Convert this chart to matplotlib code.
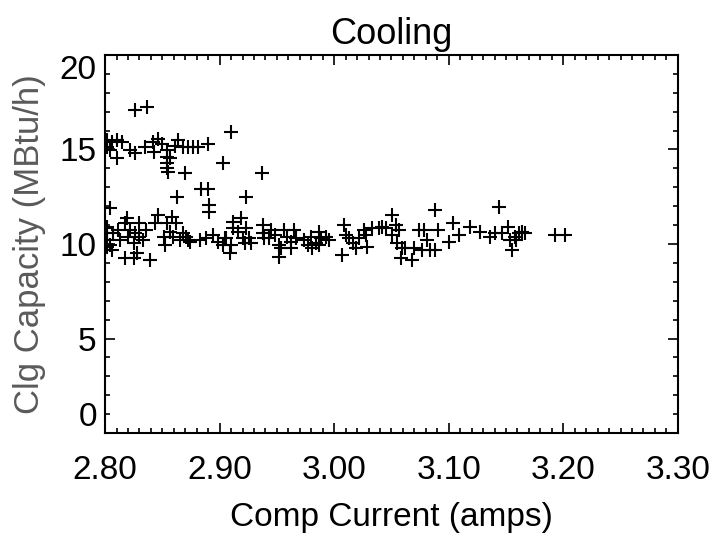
# Scatter of cooling capacity vs compressor current

import numpy as np
import matplotlib.pyplot as plt
from matplotlib.ticker import MultipleLocator

plt.rcParams['font.family'] = ['Liberation Sans', 'DejaVu Sans']

# Upper band (~15 MBtu/h) and stray points
upper_amps = [2.826, 2.837, 2.910, 2.903, 2.937, 2.870, 2.863, 2.884, 2.890, 2.891,
              2.891, 2.923, 2.804,
              2.8015, 2.806, 2.810, 2.815, 2.8015, 2.804, 2.822, 2.826, 2.810, 2.835,
              2.842, 2.846, 2.850, 2.843, 2.854, 2.854, 2.854, 2.854, 2.857, 2.861,
              2.8635, 2.868, 2.872, 2.877, 2.881, 2.890, 2.855]
upper_cap = [17.1, 17.25, 15.9, 14.3, 13.75, 13.75, 12.5, 12.9, 12.9, 12.05,
             11.7, 12.5, 11.9,
             15.5, 15.4, 15.5, 15.4, 15.15, 14.97, 14.97, 14.8, 14.55, 15.15,
             15.4, 15.55, 15.3, 14.85, 14.97, 14.6, 14.3, 14.0, 14.55, 15.2,
             15.5, 15.15, 15.15, 15.15, 15.15, 15.3, 13.8]

# Lower band (~10 MBtu/h), left part
left_amps = [2.8014, 2.8014, 2.8014, 2.8014, 2.8005, 2.8043, 2.806, 2.807, 2.8116, 2.813,
             2.8174, 2.819, 2.820, 2.822, 2.825, 2.826, 2.8276, 2.830, 2.830, 2.833,
             2.836, 2.839, 2.8174, 2.825, 2.8435, 2.846, 2.851, 2.852, 2.854, 2.857,
             2.858, 2.859, 2.862, 2.865, 2.868, 2.871, 2.8725, 2.874, 2.883, 2.888,
             2.894, 2.8985]
left_cap = [10.92, 10.56, 10.21, 9.86, 10.83, 9.95, 9.68, 10.56, 10.74, 10.21,
            11.09, 11.36, 10.39, 10.74, 10.04, 10.56, 9.51, 10.39, 11.09, 10.21,
            10.74, 9.15, 9.24, 9.24, 11.09, 11.53, 10.39, 9.95, 11.09, 10.65,
            11.45, 10.39, 11.09, 10.21, 10.56, 10.39, 10.21, 10.12, 10.21, 10.30,
            10.48, 10.12]

# Lower band, middle part
mid_amps = [2.9116, 2.919, 2.9116, 2.916, 2.923, 2.926, 2.920, 2.922, 2.9276, 2.9058,
            2.910, 2.9029, 2.9043, 2.9087, 2.938, 2.938, 2.939, 2.9435, 2.945, 2.948,
            2.952, 2.9535, 2.9565, 2.959, 2.9623, 2.965, 2.9667, 2.9623, 2.952, 2.974,
            2.9768, 2.9797, 2.981, 2.984, 2.987, 2.9885, 2.993, 2.9957, 2.987, 3.0087,
            3.010, 3.0072, 3.013, 3.016, 3.019, 3.0217, 3.026, 3.0276, 3.029, 3.0333,
            3.039, 3.042, 3.045, 3.0507, 3.0536, 3.0507, 3.055, 3.058, 3.0594, 3.062,
            3.0565]
mid_cap = [11.18, 11.36, 10.83, 10.65, 10.83, 10.30, 10.30, 10.04, 10.04, 10.30,
           9.95, 9.95, 10.30, 9.51, 11.0, 10.56, 10.30, 10.30, 10.74, 10.48,
           9.95, 9.77, 10.74, 10.39, 10.12, 10.74, 10.30, 9.77, 9.33, 10.21,
           9.95, 10.39, 9.77, 10.04, 10.65, 10.30, 10.39, 10.21, 9.95, 11.0,
           10.48, 9.42, 10.30, 10.04, 9.77, 10.30, 10.74, 10.48, 9.86, 10.83,
           10.83, 10.92, 10.83, 11.53, 11.0, 10.48, 10.04, 9.24, 9.77, 9.77,
           10.74]

# Lower band, right part
right_amps = [3.068, 3.0696, 3.074, 3.078, 3.081, 3.077, 3.084, 3.088, 3.088, 3.091,
              3.100, 3.104, 3.109, 3.119, 3.1276, 3.136, 3.1406, 3.1435, 3.1464, 3.152,
              3.1536, 3.155, 3.158, 3.161, 3.1638, 3.1667, 3.159, 3.1928, 3.2015]
right_cap = [9.15, 9.77, 10.74, 10.74, 10.21, 9.68, 9.68, 11.8, 9.68, 10.74,
             10.12, 11.09, 10.48, 10.92, 10.65, 10.39, 10.56, 11.97, 10.56, 10.92,
             10.21, 9.68, 10.39, 10.56, 10.65, 10.56, 10.21, 10.48, 10.48]

amps = np.array(upper_amps + left_amps + mid_amps + right_amps)
cap = np.array(upper_cap + left_cap + mid_cap + right_cap)

x_ticks = [2.80, 2.90, 3.00, 3.10, 3.20, 3.30]
y_ticks = [0, 5, 10, 15, 20]

fig = plt.figure(figsize=(7.15, 5.38), dpi=100)
ax = fig.add_axes([0.147, 0.195, 0.801, 0.703])

ax.plot(amps, cap, linestyle='none', marker='+', color='black', ms=10, mew=1.5)

ax.set_xlim(2.80, 3.30)
ax.set_ylim(0, 20)
ax.set_xticks(x_ticks)
ax.set_xticklabels(['%.2f' % v for v in x_ticks])
ax.set_yticks(y_ticks)
ax.set_yticklabels([str(v) for v in y_ticks])
ax.xaxis.set_minor_locator(MultipleLocator(0.01))
ax.yaxis.set_minor_locator(MultipleLocator(1))
ax.tick_params(which='both', direction='in', top=True, right=True, width=1.2)
ax.tick_params(which='major', length=7, labelsize=24)
ax.tick_params(which='minor', length=3.5)
ax.tick_params(axis='x', pad=16)
ax.tick_params(axis='y', pad=6)
# end labels on the y axis sit inside the range, as in the original
ylabs = ax.get_yticklabels()
ylabs[0].set_va('bottom')
ylabs[-1].set_va('top')
for s in ax.spines.values():
    s.set_linewidth(1.5)

ax.set_title('Cooling', fontsize=26, pad=8)
ax.set_xlabel('Comp Current (amps)', fontsize=24, labelpad=11)
ax.set_ylabel('Clg Capacity (MBtu/h)', fontsize=25, color='#5a5a5a', labelpad=10)

plt.savefig('out.png')
# plt.show()
